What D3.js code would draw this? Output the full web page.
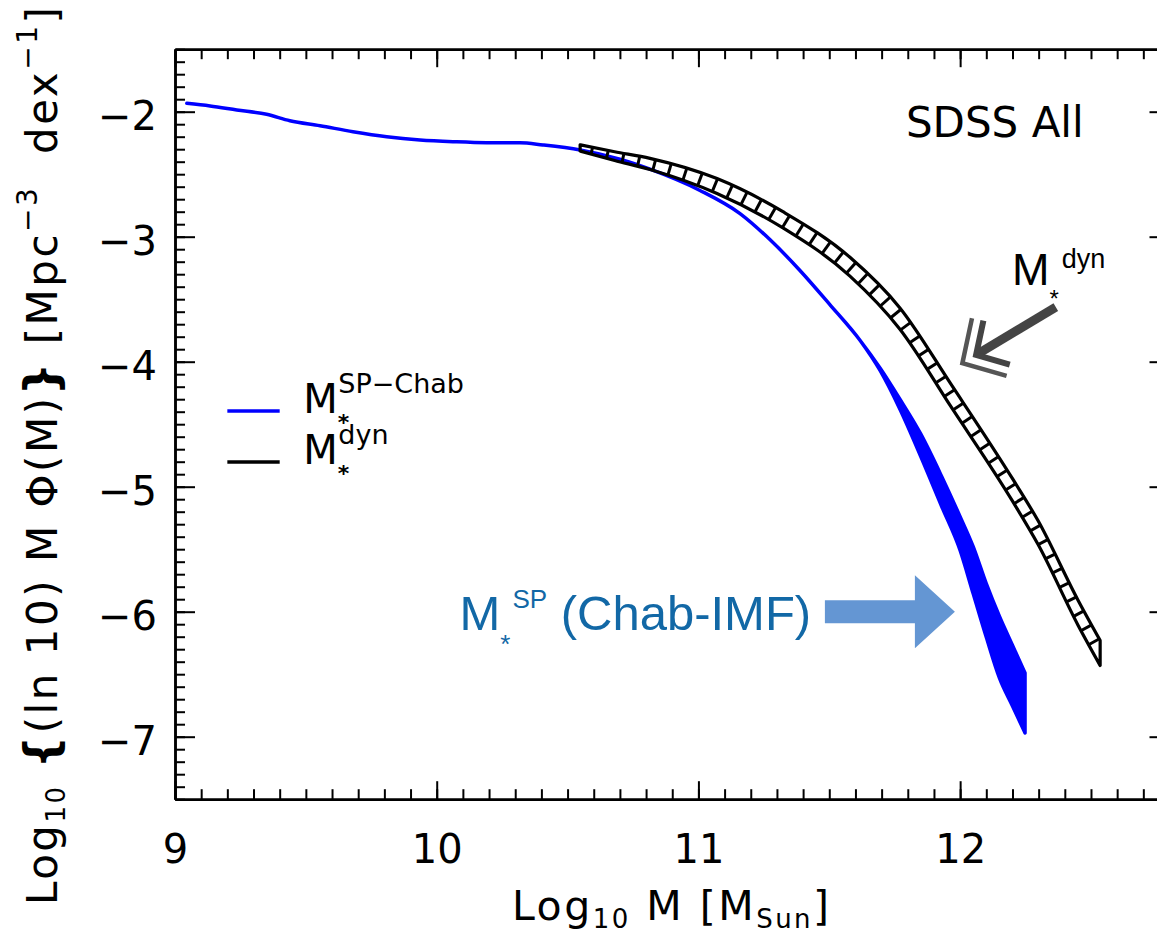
<!DOCTYPE html>
<html>
<head>
<meta charset="utf-8">
<script src="https://cdn.jsdelivr.net/npm/d3@7"></script>
<style>
	body { margin: 0; background: #fff; }
	svg { display: block; }
	.idl { font-family: "DejaVu Sans", sans-serif; fill: #000; }
	.ppt { font-family: "Liberation Sans", Arial, sans-serif; }
</style>
</head>
<body>
<div id="chart"></div>
<script>
// tick labels
const xTickVals = [9, 10, 11, 12],
	yTickVals = [-7, -6, -5, -4, -3, -2];

// M*^SP (Chabrier IMF) -- blue, a thin line that opens into a band at the high-mass end
const spX  = [9.045, 9.134, 9.236, 9.350, 9.439, 9.554, 9.680, 9.809, 9.936, 10.062, 10.191, 10.318, 10.406, 10.548, 10.700, 10.815,
	11.006, 11.159, 11.274, 11.388, 11.503, 11.618, 11.694, 11.77, 11.85, 11.93, 12.0, 12.05, 12.1, 12.15, 12.2, 12.248];
const spHi = [-1.933, -1.954, -1.986, -2.021, -2.072, -2.112, -2.160, -2.200, -2.226, -2.240, -2.248, -2.248, -2.266, -2.306, -2.380, -2.460,
	-2.630, -2.815, -3.025, -3.270, -3.545, -3.830, -4.050, -4.300, -4.580, -4.920, -5.240, -5.480, -5.776, -6.036, -6.268, -6.490];
const spLo = [-1.933, -1.954, -1.986, -2.021, -2.072, -2.112, -2.160, -2.200, -2.226, -2.240, -2.248, -2.248, -2.266, -2.306, -2.380, -2.460,
	-2.630, -2.815, -3.025, -3.270, -3.545, -3.830, -4.070, -4.380, -4.760, -5.160, -5.510, -5.857, -6.205, -6.530, -6.755, -6.970];

// M*^dyn -- black hatched band
const dynX  = [10.548, 10.680, 10.815, 11.071, 11.323, 11.579, 11.770, 11.965, 12.202, 12.298, 12.450, 12.535];
const dynHi = [-2.265, -2.320, -2.373, -2.535, -2.800, -3.165, -3.570, -4.180, -4.942, -5.273, -5.906, -6.230];
const dynLo = [-2.315, -2.390, -2.463, -2.655, -2.930, -3.315, -3.740, -4.360, -5.122, -5.463, -6.106, -6.430];

const legendItems = [
	{sup: 'SP\u2212Chab', colour: '#0000ff', y: -4.394},
	{sup: 'dyn', colour: '#000000', y: -4.802}
];

const W = 1157, H = 934;

// plot frame: the right edge runs past the picture, as in the original
const x = d3.scaleLinear().domain([9, 12.8]).range([175, 1169.5]),
	y = d3.scaleLinear().domain([-7.5, -1.5]).range([799.2, 49.2]);

const svg = d3.select('#chart').append('svg')
	.attr('width', W)
	.attr('height', H);

const xMinor = d3.range(90, 129).map(d => d / 10),
	yMinor = d3.range(-75, -14).map(d => d / 10);

function styleAxis(g) {
	g.select('.domain').attr('stroke-width', 2.5);
	g.selectAll('.tick line').attr('stroke-width', 2);
	g.selectAll('text')
		.attr('class', 'idl')
		.style('font-size', '40px');
	g.attr('font-family', null).attr('font-size', null);
}

// bottom
svg.append('g').attr('transform', `translate(0,${y(-7.5)})`)
	.call(d3.axisBottom(x).tickValues(xMinor).tickSize(-10).tickSizeOuter(0).tickFormat(''))
	.call(styleAxis);
svg.append('g').attr('transform', `translate(0,${y(-7.5)})`)
	.call(d3.axisBottom(x).tickValues(xTickVals).tickSize(-18).tickSizeOuter(0).tickPadding(35).tickFormat(d3.format('d')))
	.call(styleAxis);
// top
svg.append('g').attr('transform', `translate(0,${y(-1.5)})`)
	.call(d3.axisTop(x).tickValues(xMinor).tickSize(-10).tickSizeOuter(0).tickFormat(''))
	.call(styleAxis);
svg.append('g').attr('transform', `translate(0,${y(-1.5)})`)
	.call(d3.axisTop(x).tickValues(xTickVals).tickSize(-18).tickSizeOuter(0).tickFormat(''))
	.call(styleAxis);
// left
svg.append('g').attr('transform', `translate(${x(9)},0)`)
	.call(d3.axisLeft(y).tickValues(yMinor).tickSize(-10).tickSizeOuter(0).tickFormat(''))
	.call(styleAxis);
svg.append('g').attr('transform', `translate(${x(9)},0)`)
	.call(d3.axisLeft(y).tickValues(yTickVals).tickSize(-20).tickSizeOuter(0).tickPadding(18).tickFormat(d3.format('d')))
	.call(styleAxis)
	.selectAll('text').attr('dy', '0.45em');
// right
svg.append('g').attr('transform', `translate(${x(12.8)},0)`)
	.call(d3.axisRight(y).tickValues(yMinor).tickSize(-10).tickSizeOuter(0).tickFormat(''))
	.call(styleAxis);
svg.append('g').attr('transform', `translate(${x(12.8)},0)`)
	.call(d3.axisRight(y).tickValues(yTickVals).tickSize(-20).tickSizeOuter(0).tickFormat(''))
	.call(styleAxis);

// axis titles
const xt = svg.append('text').attr('class', 'idl')
	.attr('x', 512).attr('y', 920)
	.style('font-size', '41px').style('letter-spacing', '2.5px').style('white-space', 'pre');
xt.append('tspan').text('Log');
xt.append('tspan').attr('dy', 8).style('font-size', '26px').text('10');
xt.append('tspan').attr('dy', -8).text(' M [M');
xt.append('tspan').attr('dy', 8).style('font-size', '26px').text('Sun');
xt.append('tspan').attr('dy', -8).text(']');

const yt = svg.append('text').attr('class', 'idl')
	.attr('transform', 'translate(57,905) rotate(-90)')
	.style('font-size', '42px').style('letter-spacing', '2.5px').style('white-space', 'pre');
yt.append('tspan').text('Log');
yt.append('tspan').attr('dy', 8).style('font-size', '26px').text('10');
yt.append('tspan').attr('dy', -8).text(' ');
yt.append('tspan').style('font-weight', 'bold').style('font-size', '46px').text('{');
yt.append('tspan').text('(ln 10) M \u03A6(M)');
yt.append('tspan').style('font-weight', 'bold').style('font-size', '46px').text('}');
yt.append('tspan').text(' [Mpc');
yt.append('tspan').attr('dy', -20).style('font-size', '28px').text('\u22123');
yt.append('tspan').attr('dy', 20).text('  dex');
yt.append('tspan').attr('dy', -20).style('font-size', '28px').text('\u22121');
yt.append('tspan').attr('dy', 20).text(']');

// blue M*^SP curve / band
const spData = spX.map((d, i) => ({x: d, hi: spHi[i], lo: spLo[i]}));
const spArea = d3.area()
	.x(d => x(d.x))
	.y0(d => y(d.hi))
	.y1(d => y(d.lo))
	.curve(d3.curveMonotoneX);

svg.append('path')
	.datum(spData)
	.attr('d', spArea)
	.attr('fill', '#0000ff')
	.attr('stroke', '#0000ff')
	.attr('stroke-width', 3.5)
	.attr('stroke-linejoin', 'round');

// black M*^dyn hatched band
const dynData = dynX.map((d, i) => ({x: d, hi: dynHi[i], lo: dynLo[i]}));
const dynArea = d3.area()
	.x(d => x(d.x))
	.y0(d => y(d.hi))
	.y1(d => y(d.lo))
	.curve(d3.curveMonotoneX);

svg.append('clipPath').attr('id', 'dynClip')
	.append('path').datum(dynData).attr('d', dynArea);

// rungs across the band, perpendicular to its middle line
const midPath = svg.append('path')
	.attr('d', d3.line().curve(d3.curveMonotoneX)(dynData.map(d => [x(d.x), y((d.hi + d.lo) / 2)])))
	.attr('fill', 'none');
const node = midPath.node(),
	L = node.getTotalLength(),
	rungs = [];
for (let s = 12; s < L - 4; s += 16) {
	const p = node.getPointAtLength(s),
		a = node.getPointAtLength(Math.max(0, s - 1)),
		b = node.getPointAtLength(Math.min(L, s + 1));
	let ux = b.x - a.x, uy = b.y - a.y;
	const n = Math.hypot(ux, uy);
	ux /= n; uy /= n;
	rungs.push({x1: p.x - uy * 30, y1: p.y + ux * 30, x2: p.x + uy * 30, y2: p.y - ux * 30});
}
midPath.remove();

svg.append('g').attr('clip-path', 'url(#dynClip)')
	.selectAll('line')
	.data(rungs)
	.enter()
	.append('line')
	.attr('x1', d => d.x1).attr('y1', d => d.y1)
	.attr('x2', d => d.x2).attr('y2', d => d.y2)
	.attr('stroke', '#000')
	.attr('stroke-width', 3);

svg.append('path')
	.datum(dynData)
	.attr('d', dynArea)
	.attr('fill', 'none')
	.attr('stroke', '#000')
	.attr('stroke-width', 3.2)
	.attr('stroke-linejoin', 'round');

// legend
const legend = svg.append('g');
legendItems.forEach(item => {
	legend.append('line')
		.attr('x1', x(9.2)).attr('x2', x(9.4))
		.attr('y1', y(item.y)).attr('y2', y(item.y))
		.attr('stroke', item.colour)
		.attr('stroke-width', 3.5);
	const t = legend.append('text').attr('class', 'idl')
		.attr('x', x(9.49)).attr('y', y(item.y) + 2)
		.style('font-size', '40px');
	t.append('tspan').text('M');
	t.append('tspan').attr('dy', 17).style('font-size', '22px').style('font-weight', 'bold').text('*');
	t.append('tspan').attr('dx', -11).attr('dy', -37).style('font-size', '27px').text(item.sup);
});

// "SDSS All"
svg.append('text').attr('class', 'idl')
	.attr('x', x(11.793)).attr('y', y(-2.202))
	.style('font-size', '42px')
	.style('white-space', 'pre')
	.text('SDSS All');

// annotation: M*^dyn with dark arrow
const dynNote = svg.append('text').attr('class', 'ppt')
	.attr('x', x(12.198)).attr('y', y(-3.386))
	.attr('fill', '#000')
	.style('font-size', '45px');
dynNote.append('tspan').text('M');
dynNote.append('tspan').attr('dy', 22).style('font-size', '24px').text('*');
dynNote.append('tspan').attr('dx', 3).attr('dy', -39).style('font-size', '27px').text('dyn');

const dynArrow = svg.append('g')
	.attr('transform', `translate(${x(12.061)},${y(-3.946)}) rotate(-31)`)
	.attr('fill', 'none');
dynArrow.append('line')
	.attr('x1', 3).attr('y1', 0).attr('x2', 93).attr('y2', 0)
	.attr('stroke', '#444').attr('stroke-width', 9);
dynArrow.append('path')
	.attr('d', 'M23.9,-25.6L0,0L23.9,25.6')
	.attr('stroke', '#444').attr('stroke-width', 6);
dynArrow.append('path')
	.attr('d', 'M15.4,-33.6L-16,0L15.4,33.6')
	.attr('stroke', '#555').attr('stroke-width', 4.5);

// annotation: M*^SP (Chab-IMF) with light blue arrow
const spNote = svg.append('text').attr('class', 'ppt')
	.attr('x', x(10.087)).attr('y', y(-6.146))
	.attr('fill', '#1268a6')
	.style('font-size', '49px')
	.style('white-space', 'pre');
spNote.append('tspan').text('M');
spNote.append('tspan').attr('dy', 23).style('font-size', '26px').text('*');
spNote.append('tspan').attr('dx', 2).attr('dy', -45).style('font-size', '26px').text('SP');
spNote.append('tspan').attr('dy', 22).text(' (Chab-IMF)');

svg.append('path')
	.attr('transform', `translate(${x(11.98)},${y(-6.0)})`)
	.attr('d', 'M0,0L-40,-36.5L-40,-11.5L-130,-11.5L-130,11.5L-40,11.5L-40,36.5Z')
	.attr('fill', '#6496d3');
</script>
</body>
</html>
